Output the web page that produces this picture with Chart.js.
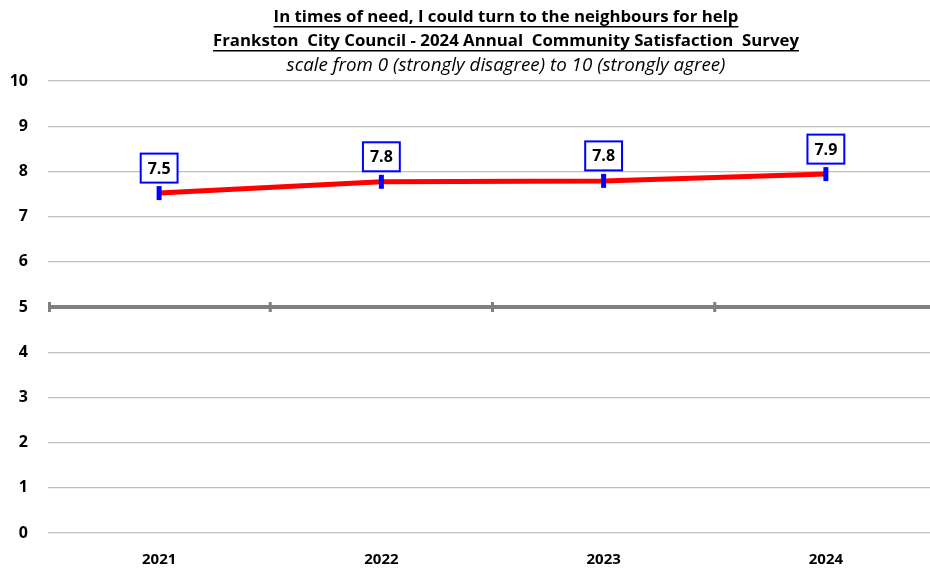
<!DOCTYPE html>
<html>
<head>
<meta charset="utf-8">
<script src="https://cdn.jsdelivr.net/npm/chart.js@4"></script>
<style>
  html, body { margin: 0; padding: 0; background: #fff; overflow: hidden; }
  #wrap { width: 930px; height: 569px; overflow: hidden; }
  #chart { display: block; }
</style>
</head>
<body>
<div id="wrap"><canvas id="chart" width="940" height="569"></canvas></div>
<script>
// Data
const years = ["2021", "2022", "2023", "2024"];
const scores = [7.52, 7.77, 7.79, 7.94];
const yTicks = [0, 1, 2, 3, 4, 5, 6, 7, 8, 9, 10];

const titleLines = [
  "In times of need, I could turn to the neighbours for help",
  "Frankston  City Council - 2024 Annual  Community Satisfaction  Survey",
  "scale from 0 (strongly disagree) to 10 (strongly agree)"
];

const FONT = "'Open Sans', Lato, sans-serif";

// titles drawn at top, first two underlined
const titlePlugin = {
  id: "titles",
  afterDraw(chart) {
    const c = chart.ctx;
    const cx = 506;
    const ys = [17, 41, 66];
    c.save();
    c.fillStyle = "#000";
    c.textAlign = "center";
    c.textBaseline = "middle";
    titleLines.forEach((t, i) => {
      c.font = (i < 2 ? "bold 16.8px " : "italic 18.8px ") + FONT;
      c.fillText(t, cx, ys[i]);
      if (i < 2) {
        const w = c.measureText(t).width;
        c.fillRect(cx - w / 2, ys[i] + 9, w, 1.5);
      }
    });
    c.restore();
  }
};

// thick grey line at 5 with tick marks at category boundaries
const midLine = {
  id: "midLine",
  beforeDatasetsDraw(chart) {
    const c = chart.ctx;
    const a = chart.chartArea;
    const x = chart.scales.x, y = chart.scales.y;
    const y5 = y.getPixelForValue(5);
    c.save();
    c.strokeStyle = "#808080";
    c.lineWidth = 4;
    c.beginPath();
    c.moveTo(a.left, y5);
    c.lineTo(a.right, y5);
    c.stroke();
    c.lineWidth = 3;
    for (let i = 0; i <= years.length; i++) {
      const px = x.getPixelForValue(i - 0.5) + (i === 0 ? 1.5 : 0);
      c.beginPath();
      c.moveTo(px, y5 - 5);
      c.lineTo(px, y5 + 5);
      c.stroke();
    }
    c.restore();
  }
};

// boxed value labels above points
const valueBoxes = {
  id: "valueBoxes",
  afterDatasetsDraw(chart) {
    const c = chart.ctx;
    const meta = chart.getDatasetMeta(0);
    c.save();
    c.font = "bold 16px " + FONT;
    c.textAlign = "center";
    c.textBaseline = "middle";
    meta.data.forEach((pt, i) => {
      const txt = scores[i].toFixed(1);
      const w = c.measureText(txt).width + 14;
      const h = 29;
      const cy = pt.y - 25;
      c.fillStyle = "#fff";
      c.fillRect(pt.x - w / 2, cy - h / 2, w, h);
      c.strokeStyle = "#0000ff";
      c.lineWidth = 2;
      c.strokeRect(pt.x - w / 2, cy - h / 2, w, h);
      c.fillStyle = "#000";
      c.fillText(txt, pt.x, cy + 1);
    });
    c.restore();
  }
};

new Chart(document.getElementById("chart").getContext("2d"), {
  type: "line",
  data: {
    labels: years,
    datasets: [{
      data: scores,
      borderColor: "#ff0000",
      borderWidth: 5,
      tension: 0,
      pointStyle: "line",
      rotation: 90,
      pointRadius: 7,
      pointBorderWidth: 5,
      pointBorderColor: "#0000ff",
      pointHoverRadius: 7
    }]
  },
  options: {
    responsive: false,
    animation: false,
    layout: { autoPadding: false, padding: { top: 81, left: 6, right: 3, bottom: 0 } },
    plugins: { legend: { display: false }, tooltip: { enabled: false } },
    scales: {
      x: {
        offset: true,
        grid: { display: false },
        border: { display: false },
        afterFit(s) { s.height = 36; },
        ticks: { color: "#000", font: { family: FONT, size: 15, weight: "bold" }, padding: 10 }
      },
      y: {
        min: 0,
        max: 10,
        afterBuildTicks(s) { s.ticks = yTicks.map(v => ({ value: v })); },
        afterFit(s) { s.width = 42; },
        grid: { color: "#bfbfbf", lineWidth: 1.2, drawTicks: false },
        border: { display: false },
        ticks: { color: "#000", font: { family: FONT, size: 16, weight: "bold" }, padding: 20 }
      }
    }
  },
  plugins: [midLine, valueBoxes, titlePlugin]
});
</script>
</body>
</html>
